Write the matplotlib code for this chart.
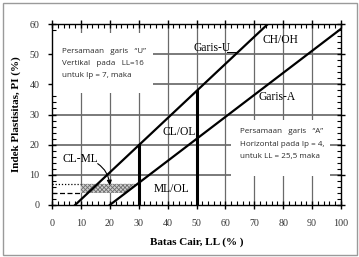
import matplotlib
matplotlib.use("Agg")
import matplotlib.pyplot as plt
from matplotlib.patches import Rectangle, Polygon
from matplotlib.ticker import MultipleLocator

plt.rcParams['hatch.linewidth'] = 0.6

# ---- data ----
u_ll = [8, 74.7]
u_pi = [0, 60]
a_ll = [20, 100]
a_pi = [0, 58.4]
v_ll = [30, 50]
v_top = [19.8, 37.8]
hatch_ll = [10, 25.5, 29.6, 10]
hatch_pi = [4, 4, 7, 7]
x_ticks = [0, 10, 20, 30, 40, 50, 60, 70, 80, 90, 100]
y_ticks = [0, 10, 20, 30, 40, 50, 60]
box_u_lines = ["Persamaan   garis   \u201cU\u201d", "Vertikal   pada   LL=16", "untuk Ip = 7, maka"]
box_a_lines = ["Persamaan   garis   \u201cA\u201d", "Horizontal pada Ip = 4,", "untuk LL = 25,5 maka"]

W, H = 359, 257
fig = plt.figure(figsize=(W/100, H/100), dpi=100)
fig.patches.append(Rectangle((2.5/W, 2.5/H), 354/W, 252/H, transform=fig.transFigure,
                             fill=False, edgecolor='#9a9a9a', lw=1.0))
ax = fig.add_axes([52/W, 1-205/H, (341-52)/W, (205-24)/H])
ax.set_xlim(0, 100)
ax.set_ylim(0, 60)

serif = 'Liberation Serif'
sans = 'Open Sans'

# grid
for y in y_ticks[1:-1]:
    ax.axhline(y, color='#7a7a7a', lw=1.4, zorder=1)
for x in x_ticks[1:-1]:
    ax.axvline(x, color='#6a6a6a', lw=0.9, zorder=1)

# white text boxes
ax.add_patch(Rectangle((0, 37), 35, 20, facecolor='white', edgecolor='none', zorder=2))
ax.add_patch(Rectangle((62, 9.6), 34.3, 18.5, facecolor='white', edgecolor='none', zorder=2))

# hatched CL-ML zone
ax.add_patch(Polygon(list(zip(hatch_ll, hatch_pi)), closed=True, facecolor='#cfcfcf',
                     edgecolor='#6e6e6e', hatch='xxxxxxxx', lw=0, zorder=3))

# main lines
ax.plot(u_ll, u_pi, color='black', lw=1.6, zorder=4, clip_on=True)
ax.plot(a_ll, a_pi, color='black', lw=1.6, zorder=4, clip_on=True)
for x, t in zip(v_ll, v_top):
    ax.plot([x, x], [0, t], color='black', lw=2.2, zorder=4)

ax.plot([0, 10], [7, 7], color='black', lw=0.9, ls=(0, (1, 1.5)), zorder=4)
ax.plot([0, 10], [4, 4], color='black', lw=0.9, ls=(0, (4, 2)), zorder=4)

# labels
tkw = dict(family=serif, fontsize=8.3, zorder=5)
ax.text(55.5, 52, "Garis-U", ha='center', va='center', **tkw)
ax.plot([60.5, 63.5], [50.6, 50.6], color='black', lw=0.7, zorder=5)
ax.text(79, 54.7, "CH/OH", ha='center', va='center', **tkw)
ax.text(78, 35.8, "Garis-A", ha='center', va='center', **tkw)
ax.text(44, 24.3, "CL/OL", ha='center', va='center', **tkw)
ax.text(41.5, 5.2, "ML/OL", ha='center', va='center', **tkw)
ax.text(9.7, 15.3, "CL-ML", ha='center', va='center', **tkw)
ax.annotate("", xy=(20, 5.6), xytext=(15, 14.2),
            arrowprops=dict(arrowstyle='-|>', color='black', lw=0.8,
                            connectionstyle='angle3,angleA=-30,angleB=90',
                            mutation_scale=7), zorder=6)

bkw = dict(family=sans, fontsize=5.8, color='#2a2a2a', zorder=5, va='center', ha='left')
for i, s in enumerate(box_u_lines):
    ax.text(3.5, 50.8 - i*3.95, s, **bkw)
for i, s in enumerate(box_a_lines):
    ax.text(65, 24.3 - i*4.1, s, **bkw)

# ticks
ax.set_xticks(x_ticks)
ax.set_yticks(y_ticks)
ax.xaxis.set_minor_locator(MultipleLocator(2))
ax.yaxis.set_minor_locator(MultipleLocator(2))
ax.tick_params(which='major', direction='inout', length=6, width=1.0, top=True, right=True,
               labelsize=7.2, pad=6, color='black')
ax.tick_params(which='minor', direction='in', length=3, width=0.8, top=True, right=True)
ax.tick_params(axis='x', which='major', pad=7)
for lab in ax.get_xticklabels() + ax.get_yticklabels():
    lab.set_family(serif)
    lab.set_color('#333333')
for sp in ax.spines.values():
    sp.set_linewidth(1.0)

ax.set_xlabel("Batas Cair, LL (% )", family=serif, fontsize=8, fontweight='bold', labelpad=7)
ax.set_ylabel("Indek Plastisitas, PI (%)", family=serif, fontsize=8, fontweight='bold', labelpad=6)

fig.savefig("out.png", dpi=100)
